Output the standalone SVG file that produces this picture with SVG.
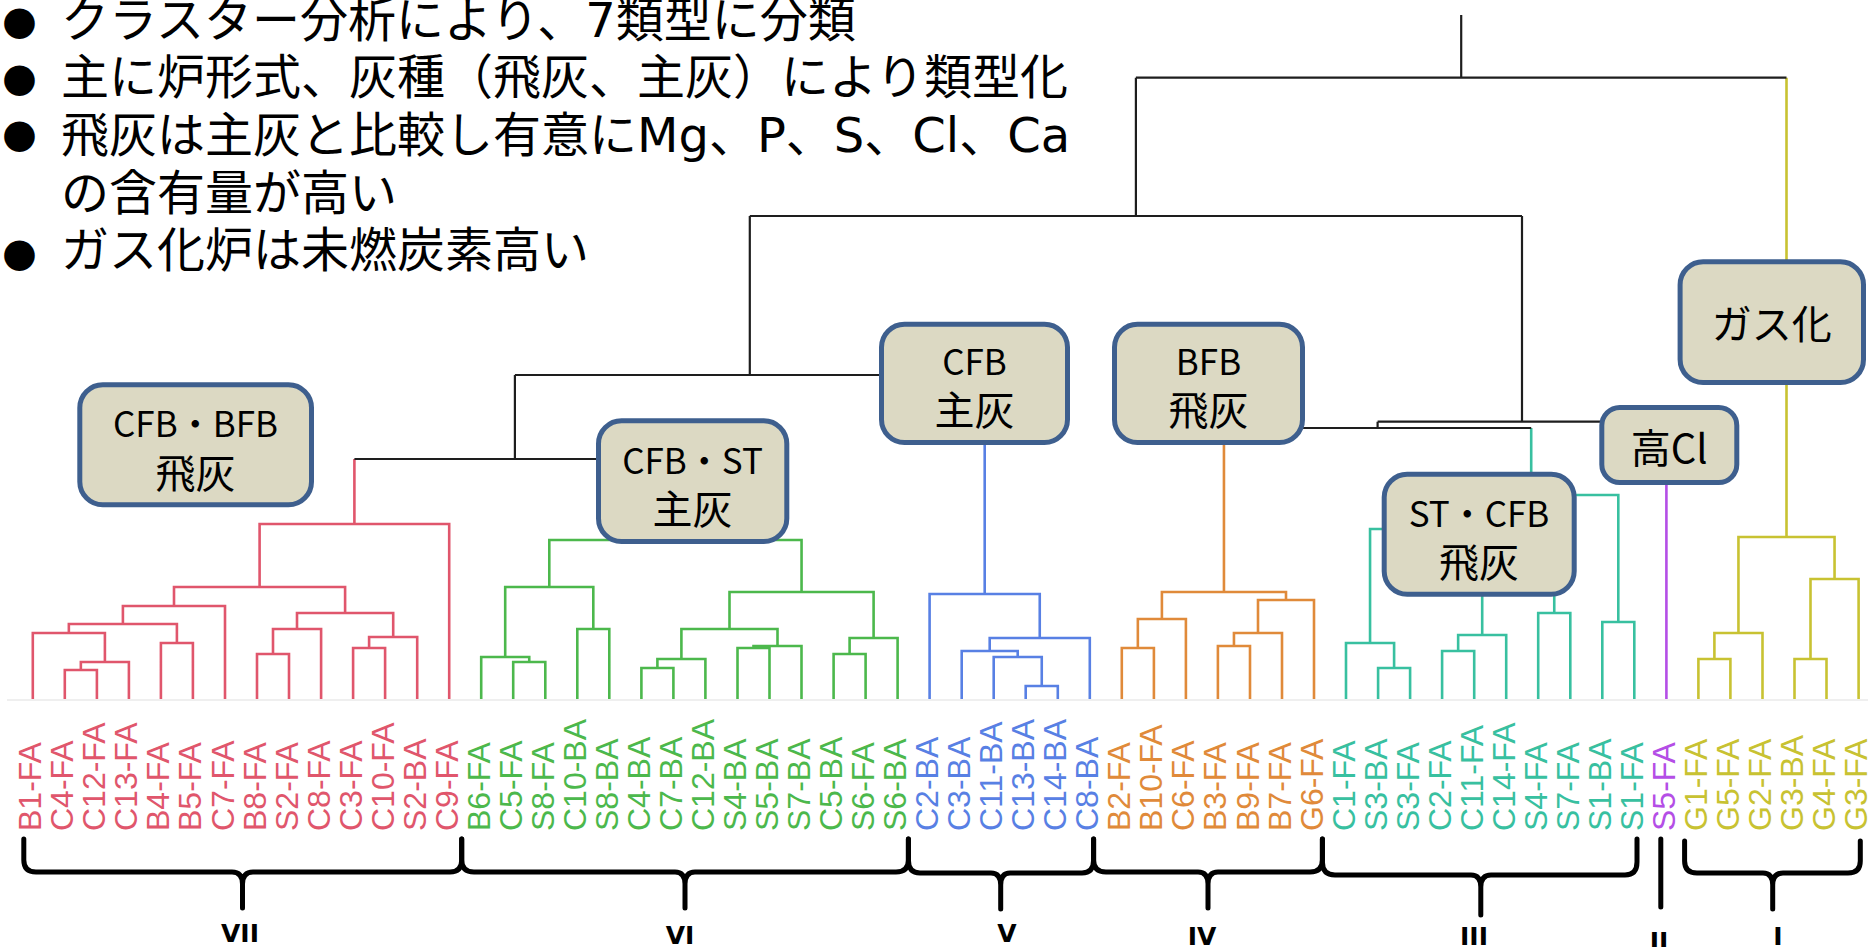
<svg xmlns="http://www.w3.org/2000/svg" width="1868" height="947" viewBox="0 0 1868 947">
<style>
.ttl{font-family:"DejaVu Sans","Noto Sans CJK JP",sans-serif;font-size:48px;fill:#000}
.bul{font-family:"DejaVu Sans",sans-serif;font-size:40px;fill:#000}
.ln{fill:none;stroke-width:2.6;stroke-linejoin:miter}
.k{stroke:#1e1e1e;stroke-width:2.2}
.r{stroke:#e0566c}.g{stroke:#4cb84c}.b{stroke:#5880e4}.o{stroke:#e08a3a}.t{stroke:#38c0a0}.p{stroke:#b44ee6}.y{stroke:#c8c232}
.lab{font-family:"Liberation Sans",Arial,sans-serif;font-size:32px}
.lr{fill:#e0566c}.lg{fill:#4cb84c}.lb{fill:#5880e4}.lo{fill:#e08a3a}.lt{fill:#38c0a0}.lp{fill:#b44ee6}.ly{fill:#c8c232}
.box{fill:#dcd9c3;stroke:#3e5f8e;stroke-width:5}
.bt{font-family:"Noto Sans CJK JP",sans-serif;font-size:40px;fill:#000;text-anchor:middle;dominant-baseline:central}
.bl{font-size:35px}
.br{fill:none;stroke:#000;stroke-width:5;stroke-linecap:round;stroke-linejoin:round}
.rn{font-family:"DejaVu Sans",sans-serif;font-weight:bold;font-size:25px;fill:#000;text-anchor:middle}
</style>

<g id="title">
<text class="bul" x="19.5" y="34" text-anchor="middle">●</text>
<text class="bul" x="19.5" y="91" text-anchor="middle">●</text>
<text class="bul" x="19.5" y="147" text-anchor="middle">●</text>
<text class="bul" x="19.5" y="266" text-anchor="middle">●</text>
<text class="ttl" x="61" y="37">クラスター分析により、7類型に分類</text>
<text class="ttl" x="61" y="94">主に炉形式、灰種（飛灰、主灰）により類型化</text>
<text class="ttl" x="61" y="152">飛灰は主灰と比較し有意にMg、P、S、Cl、Ca</text>
<text class="ttl" x="61" y="210">の含有量が高い</text>
<text class="ttl" x="61" y="267">ガス化炉は未燃炭素高い</text>
</g>

<line x1="7" y1="700" x2="1868" y2="700" stroke="#efefef" stroke-width="2"/>

<g id="connectors" class="ln">
<path class="r" d="M64.8,699V670H96.9V699M80.85,670V662H128.9V699M32.8,699V633H104.9V662M160.9,699V643H192.9V699M68.85,633V624H176.9V643M122.9,624V606H225V699M257,699V654H289V699M273,654V629H321.1V699M353.1,699V648H385.1V699M369.1,648V637H417.2V699M297,629V613H393.2V637M174,606V587H345.1V613M259.6,587V524H449.2V699M354.4,524V459"/>
<path class="g" d="M513.2,699V662H545.3V699M481.2,699V657H529.25V662M577.3,699V629H609.3V699M505.2,657V587H593.3V629M641.4,699V668H673.4V699M657.4,668V659H705.4V699M737.5,699V648H769.5V699M753.5,648V646H801.5V699M681.4,659V629H777.5V646M833.6,699V654H865.6V699M849.6,654V638H897.6V699M729.5,629V592H873.6V638M549.3,587V540H801.55V592M675.4,540V459"/>
<path class="b" d="M1025.7,699V686H1057.8V699M993.7,699V657H1041.75V686M961.7,699V651H1017.7V657M989.7,651V638H1089.8V699M929.6,699V594H1039.75V638M984.7,594V375"/>
<path class="o" d="M1121.8,699V648H1153.9V699M1137.85,648V619H1185.9V699M1217.9,699V646H1250V699M1233.95,646V633H1282V699M1258,633V600H1314V699M1161.9,619V592H1286V600M1223.95,592V428"/>
<path class="t" d="M1378.1,699V668H1410.1V699M1346,699V643H1394.1V668M1442.1,699V651H1474.2V699M1458.15,651V635H1506.2V699M1538.2,699V613H1570.3V699M1482.2,635V585H1554.25V613M1370.05,643V529H1518.2V585M1602.3,699V622H1634.3V699M1444.1,529V495H1618.3V622M1531.2,495V428"/>
<path class="p" d="M1666.4,699V421.7"/>
<path class="y" d="M1698.4,699V659H1730.4V699M1714.4,659V633H1762.5V699M1794.5,699V659H1826.5V699M1810.5,659V579H1858.6V699M1738.45,633V537H1834.55V579M1786.5,537V77.7"/>
<path class="k" d="M354.4,459H675.4M514.9,459V375M514.9,375H984.7M749.8,375V216M1223.95,428H1531.2M1377.6,428V421.7M1377.6,421.7H1666.4M1522,421.7V216M749.8,216H1522M1135.9,216V77.7M1135.9,77.7H1786.5M1461.2,77.7V15"/>
</g>

<g id="leaf-labels" class="lab">
<text class="lr" transform="translate(41.3,831) rotate(-90)">B1-FA</text>
<text class="lr" transform="translate(73.3,831) rotate(-90)">C4-FA</text>
<text class="lr" transform="translate(105.4,831) rotate(-90)">C12-FA</text>
<text class="lr" transform="translate(137.4,831) rotate(-90)">C13-FA</text>
<text class="lr" transform="translate(169.4,831) rotate(-90)">B4-FA</text>
<text class="lr" transform="translate(201.4,831) rotate(-90)">B5-FA</text>
<text class="lr" transform="translate(233.5,831) rotate(-90)">C7-FA</text>
<text class="lr" transform="translate(265.5,831) rotate(-90)">B8-FA</text>
<text class="lr" transform="translate(297.5,831) rotate(-90)">S2-FA</text>
<text class="lr" transform="translate(329.6,831) rotate(-90)">C8-FA</text>
<text class="lr" transform="translate(361.6,831) rotate(-90)">C3-FA</text>
<text class="lr" transform="translate(393.6,831) rotate(-90)">C10-FA</text>
<text class="lr" transform="translate(425.7,831) rotate(-90)">S2-BA</text>
<text class="lr" transform="translate(457.7,831) rotate(-90)">C9-FA</text>
<text class="lg" transform="translate(489.7,831) rotate(-90)">B6-FA</text>
<text class="lg" transform="translate(521.7,831) rotate(-90)">C5-FA</text>
<text class="lg" transform="translate(553.8,831) rotate(-90)">S8-FA</text>
<text class="lg" transform="translate(585.8,831) rotate(-90)">C10-BA</text>
<text class="lg" transform="translate(617.8,831) rotate(-90)">S8-BA</text>
<text class="lg" transform="translate(649.9,831) rotate(-90)">C4-BA</text>
<text class="lg" transform="translate(681.9,831) rotate(-90)">C7-BA</text>
<text class="lg" transform="translate(713.9,831) rotate(-90)">C12-BA</text>
<text class="lg" transform="translate(746,831) rotate(-90)">S4-BA</text>
<text class="lg" transform="translate(778,831) rotate(-90)">S5-BA</text>
<text class="lg" transform="translate(810,831) rotate(-90)">S7-BA</text>
<text class="lg" transform="translate(842.1,831) rotate(-90)">C5-BA</text>
<text class="lg" transform="translate(874.1,831) rotate(-90)">S6-FA</text>
<text class="lg" transform="translate(906.1,831) rotate(-90)">S6-BA</text>
<text class="lb" transform="translate(938.1,831) rotate(-90)">C2-BA</text>
<text class="lb" transform="translate(970.2,831) rotate(-90)">C3-BA</text>
<text class="lb" transform="translate(1002.2,831) rotate(-90)">C11-BA</text>
<text class="lb" transform="translate(1034.2,831) rotate(-90)">C13-BA</text>
<text class="lb" transform="translate(1066.3,831) rotate(-90)">C14-BA</text>
<text class="lb" transform="translate(1098.3,831) rotate(-90)">C8-BA</text>
<text class="lo" transform="translate(1130.3,831) rotate(-90)">B2-FA</text>
<text class="lo" transform="translate(1162.4,831) rotate(-90)">B10-FA</text>
<text class="lo" transform="translate(1194.4,831) rotate(-90)">C6-FA</text>
<text class="lo" transform="translate(1226.4,831) rotate(-90)">B3-FA</text>
<text class="lo" transform="translate(1258.5,831) rotate(-90)">B9-FA</text>
<text class="lo" transform="translate(1290.5,831) rotate(-90)">B7-FA</text>
<text class="lo" transform="translate(1322.5,831) rotate(-90)">G6-FA</text>
<text class="lt" transform="translate(1354.5,831) rotate(-90)">C1-FA</text>
<text class="lt" transform="translate(1386.6,831) rotate(-90)">S3-BA</text>
<text class="lt" transform="translate(1418.6,831) rotate(-90)">S3-FA</text>
<text class="lt" transform="translate(1450.6,831) rotate(-90)">C2-FA</text>
<text class="lt" transform="translate(1482.7,831) rotate(-90)">C11-FA</text>
<text class="lt" transform="translate(1514.7,831) rotate(-90)">C14-FA</text>
<text class="lt" transform="translate(1546.7,831) rotate(-90)">S4-FA</text>
<text class="lt" transform="translate(1578.8,831) rotate(-90)">S7-FA</text>
<text class="lt" transform="translate(1610.8,831) rotate(-90)">S1-BA</text>
<text class="lt" transform="translate(1642.8,831) rotate(-90)">S1-FA</text>
<text class="lp" transform="translate(1674.9,831) rotate(-90)">S5-FA</text>
<text class="ly" transform="translate(1706.9,831) rotate(-90)">G1-FA</text>
<text class="ly" transform="translate(1738.9,831) rotate(-90)">G5-FA</text>
<text class="ly" transform="translate(1771,831) rotate(-90)">G2-FA</text>
<text class="ly" transform="translate(1803,831) rotate(-90)">G3-BA</text>
<text class="ly" transform="translate(1835,831) rotate(-90)">G4-FA</text>
<text class="ly" transform="translate(1867.1,831) rotate(-90)">G3-FA</text>
</g>

<g id="box-cfb-bfb-fly">
<rect class="box" x="79.8" y="384.8" width="231.7" height="120" rx="23"/>
<text class="bt bl" x="195.5" y="421.7">CFB・BFB</text>
<text class="bt" x="195.5" y="470.7">飛灰</text>
</g>
<g id="box-cfb-st-bottom">
<rect class="box" x="598.5" y="420.8" width="188.3" height="120.7" rx="23"/>
<text class="bt bl" x="692.5" y="458.3">CFB・ST</text>
<text class="bt" x="692.5" y="506.7">主灰</text>
</g>
<g id="box-cfb-bottom">
<rect class="box" x="881.5" y="324.2" width="186" height="118.3" rx="23"/>
<text class="bt bl" x="974.5" y="359">CFB</text>
<text class="bt" x="974.5" y="408.3">主灰</text>
</g>
<g id="box-bfb-fly">
<rect class="box" x="1114.5" y="324.2" width="188" height="118.3" rx="23"/>
<text class="bt bl" x="1208.5" y="359">BFB</text>
<text class="bt" x="1208.5" y="408.3">飛灰</text>
</g>
<g id="box-gas">
<rect class="box" x="1680.1" y="261.8" width="183.4" height="120.7" rx="23"/>
<text class="bt" x="1771.8" y="322">ガス化</text>
</g>
<g id="box-high-cl">
<rect class="box" x="1601.8" y="407.5" width="135" height="75" rx="18"/>
<text class="bt" x="1669.3" y="446">高Cl</text>
</g>
<g id="box-st-cfb-fly">
<rect class="box" x="1384.2" y="474.2" width="190" height="120" rx="23"/>
<text class="bt bl" x="1479" y="511.7">ST・CFB</text>
<text class="bt" x="1479" y="560">飛灰</text>
</g>

<g id="brace-VII">
<path class="br" d="M23.8,839V860Q23.8,872 36,872H232Q242.5,872 242.5,884V908M461.7,839V860Q461.7,872 450,872H253Q242.5,872 242.5,884"/>
<text class="rn" x="240" y="942">VII</text>
</g>
<g id="brace-VI">
<path class="br" d="M461.7,839V860Q461.7,872 474,872H675Q685,872 685,884V908M908.4,839V860Q908.4,872 896,872H695Q685,872 685,884"/>
<text class="rn" x="680" y="944">VI</text>
</g>
<g id="brace-V">
<path class="br" d="M908.4,839V860Q908.4,873 920,873H991Q1000.7,873 1000.7,885V909M1093.6,839V860Q1093.6,873 1082,873H1010Q1000.7,873 1000.7,885"/>
<text class="rn" x="1007" y="942">V</text>
</g>
<g id="brace-IV">
<path class="br" d="M1093.6,839V860Q1093.6,872 1106,872H1198Q1208,872 1208,884V908M1322.4,839V860Q1322.4,872 1310,872H1218Q1208,872 1208,884"/>
<text class="rn" x="1202" y="945">IV</text>
</g>
<g id="brace-III">
<path class="br" d="M1322.4,839V862Q1322.4,875 1335,875H1471Q1480.8,875 1480.8,887V915M1637,839V862Q1637,875 1625,875H1491Q1480.8,875 1480.8,887"/>
<text class="rn" x="1474" y="945">III</text>
</g>
<g id="brace-II">
<path class="br" d="M1660.8,839V907"/>
<text class="rn" x="1659" y="950">II</text>
</g>
<g id="brace-I">
<path class="br" d="M1684.6,841V861Q1684.6,873 1697,873H1763Q1772.7,873 1772.7,885V909M1860.3,841V861Q1860.3,873 1848,873H1783Q1772.7,873 1772.7,885"/>
<text class="rn" x="1778" y="945">I</text>
</g>
</svg>
